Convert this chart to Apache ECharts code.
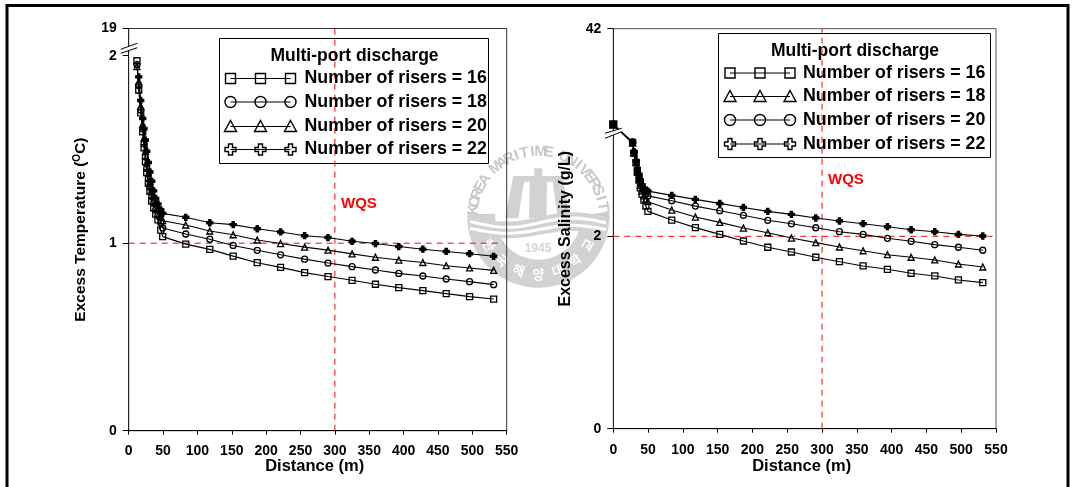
<!DOCTYPE html>
<html><head><meta charset="utf-8">
<style>html,body{margin:0;padding:0;background:#fff}#c{width:1072px;height:487px}</style>
<script src="https://cdn.jsdelivr.net/npm/echarts@6/dist/echarts.min.js"></script>
</head><body><div id="c"></div>
<script>
// ---- data ----
const tempDistance = [12,14.6,17.5,20.4,22.3,24.3,26.2,28.6,30.9,33.5,36.4,39.3,42.6,46.6,49.5,83,118,152,187,221,256,290,325,359,393,428,462,496,531];
const tempRisers16 = [1.973,1.817,1.695,1.594,1.509,1.435,1.376,1.319,1.277,1.225,1.189,1.155,1.124,1.07,1.035,0.995,0.967,0.931,0.896,0.871,0.843,0.822,0.802,0.781,0.763,0.747,0.731,0.715,0.702];
const tempRisers18 = [1.952,1.841,1.71,1.61,1.53,1.46,1.399,1.344,1.299,1.249,1.214,1.178,1.148,1.108,1.081,1.049,1.021,0.988,0.962,0.938,0.915,0.894,0.875,0.857,0.839,0.825,0.809,0.795,0.779];
const tempRisers20 = [1.942,1.861,1.73,1.635,1.56,1.49,1.43,1.375,1.329,1.284,1.249,1.214,1.184,1.143,1.12,1.097,1.065,1.045,1.017,0.998,0.979,0.963,0.943,0.925,0.91,0.897,0.88,0.868,0.855];
const tempRisers22 = [null,1.887,1.761,1.665,1.61,1.55,1.49,1.43,1.38,1.33,1.279,1.239,1.209,1.178,1.159,1.138,1.109,1.099,1.077,1.06,1.04,1.03,1.01,0.998,0.982,0.968,0.956,0.944,0.93];
const saltDistance = [0,27.7,29.7,32.8,34.6,37,38.9,41.3,44,46.9,49.8,84,118,153,187,222,256,291,325,359,394,428,462,496,531];
const saltRisers16 = [3.162,2.976,2.861,2.764,2.664,2.584,2.504,2.439,2.377,2.314,2.259,2.169,2.09,2.02,1.951,1.886,1.837,1.782,1.736,1.692,1.657,1.616,1.588,1.546,1.518];
const saltRisers18 = [3.162,2.97,2.87,2.77,2.68,2.6,2.53,2.47,2.42,2.39,2.36,2.273,2.2,2.145,2.086,2.037,1.982,1.934,1.889,1.85,1.809,1.782,1.754,1.712,1.681];
const saltRisers20 = [3.162,2.97,2.875,2.775,2.69,2.62,2.56,2.51,2.47,2.44,2.42,2.37,2.314,2.266,2.218,2.166,2.13,2.089,2.048,2.02,1.979,1.948,1.913,1.886,1.855];
const saltRisers22 = [3.162,2.98,2.88,2.785,2.705,2.645,2.585,2.535,2.5,2.48,2.47,2.425,2.384,2.342,2.3,2.259,2.228,2.19,2.159,2.131,2.1,2.068,2.048,2.02,2.003];
const tempTicks = [0,1,2,2.145];
const tempTickLabels = ['0','1','2','19'];
const saltTicks = [0,2,4.158];
const saltTickLabels = ['0','2','42'];
const xTicksMax = 550;
const wqsDistance = 300;
const wqsTemp = 1;
const wqsSalt = 2;
const riserNames = ['Number of risers = 16','Number of risers = 18','Number of risers = 20','Number of risers = 22'];

// ---- styling ----
const FONT = '"Liberation Sans", Arial, sans-serif';
const plus = 'path://M32 0H68V32H100V68H68V100H32V68H0V32H32Z';
const axisX = (i,gap,margin) => ({
  type:'value', gridIndex:i, min:0, max:xTicksMax, interval:50,
  name:'Distance (m)', nameLocation:'middle', nameGap:gap, nameMoveOverlap:false,
  nameTextStyle:{fontFamily:FONT,fontWeight:'bold',fontSize:16.5,color:'#000',padding:[0,6,0,0]},
  axisLine:{lineStyle:{color:'#000',width:1}}, axisTick:{length:4,lineStyle:{color:'#000'}},
  axisLabel:{fontFamily:FONT,fontWeight:'bold',fontSize:14,color:'#000',margin,showMinLabel:true,showMaxLabel:true},
  splitLine:{show:false}
});
const axisY = (i,ticks,labels,name,gap,fs) => ({
  type:'value', gridIndex:i, min:0, max:ticks[ticks.length-1],
  name, nameLocation:'middle', nameGap:gap, nameRotate:90, nameMoveOverlap:false,
  nameTextStyle:{fontFamily:FONT,fontWeight:'bold',fontSize:fs,color:'#000',
    rich:{sup:{fontFamily:FONT,fontWeight:'bold',fontSize:10,color:'#000',verticalAlign:'top',padding:[0,0,5,0]},
          n:{fontFamily:FONT,fontWeight:'bold',fontSize:fs,color:'#000'}}},
  axisLine:{lineStyle:{color:'#222',width:1}},
  axisTick:{length:6,lineStyle:{color:'#000'},customValues:ticks},
  axisLabel:{fontFamily:FONT,fontWeight:'bold',fontSize:14,color:'#000',margin:12,customValues:ticks,
    formatter:(v)=>{const k=ticks.findIndex(t=>Math.abs(t-v)<1e-6);return k>=0?labels[k]:'';}},
  splitLine:{show:false}
});
const mk = (name,xs,ys,sym,size,filled,i,z) => ({
  name, type:'line', xAxisIndex:i, yAxisIndex:i, z,
  data: xs.map((x,k)=>[x,ys[k]]),
  symbol:sym, symbolSize:size, showSymbol:true, showAllSymbol:true, silent:true, animation:false, clip:false,
  lineStyle:{color:'#000',width:1.1},
  itemStyle:{color:filled?'#000':'rgba(255,255,255,0)',borderColor:'#000',borderWidth:1.3}
});
const wqs = (pts,i) => ({
  type:'line', xAxisIndex:i, yAxisIndex:i, z:1, data:pts, symbol:'none', silent:true, animation:false,
  lineStyle:{color:'#f00',width:1,type:[6,5]}
});

// ---- legend & decoration drawn as graphics ----
const g = [];
g.push({type:'polyline',z:40,shape:{points:[[7,487],[7,5.5],[1068,5.5],[1068,487]]},style:{stroke:'#000',fill:null,lineWidth:3}});
function legend(box,titleCx,titleY,rowsY,symX,textX,syms){
  g.push({type:'rect',z:5,shape:{x:box[0],y:box[1],width:box[2]-box[0],height:box[3]-box[1]},style:{fill:null,stroke:'#000',lineWidth:1}});
  g.push({type:'text',z:6,x:titleCx,y:titleY,style:{text:'Multi-port discharge',align:'center',verticalAlign:'middle',font:'bold 17.5px '+FONT,fill:'#000'}});
  rowsY.forEach((y,r)=>{
    g.push({type:'line',z:6,shape:{x1:symX[0],y1:y,x2:symX[2],y2:y},style:{stroke:'#000',lineWidth:1}});
    symX.forEach(x=>{
      const st={fill:'rgba(255,255,255,0)',stroke:'#000',lineWidth:1.4}, s=syms[r];
      if(s==='s') g.push({type:'rect',z:6,shape:{x:x-5,y:y-5,width:10,height:10},style:st});
      if(s==='c') g.push({type:'circle',z:6,shape:{cx:x,cy:y,r:5.5},style:st});
      if(s==='t') g.push({type:'polygon',z:6,shape:{points:[[x,y-6],[x+6,y+5],[x-6,y+5]]},style:st});
      if(s==='p') g.push({type:'polygon',z:6,shape:{points:[[x-2,y-5.5],[x+2,y-5.5],[x+2,y-2],[x+5.5,y-2],[x+5.5,y+2],[x+2,y+2],[x+2,y+5.5],[x-2,y+5.5],[x-2,y+2],[x-5.5,y+2],[x-5.5,y-2],[x-2,y-2]]},style:st});
    });
    g.push({type:'text',z:6,x:textX,y:y,style:{text:riserNames[r],align:'left',verticalAlign:'middle',font:'bold 17.8px '+FONT,fill:'#000'}});
  });
}
legend([219.5,38.5,488.5,163.5],354.5,56,[78.5,102,126.5,149.5],[230.5,260.5,290.5],304.5,['s','c','t','p']);
legend([718.5,33.5,990.5,157.5],855,51,[73,96.5,120,144],[730,760,790],803,['s','t','c','p']);
g.push({type:'text',z:6,x:341,y:204,style:{text:'WQS',align:'left',verticalAlign:'middle',font:'bold 15px '+FONT,fill:'#f00'}});
g.push({type:'text',z:6,x:828,y:180,style:{text:'WQS',align:'left',verticalAlign:'middle',font:'bold 15px '+FONT,fill:'#f00'}});
function brk(a,b,c,d){
  g.push({type:'polygon',z:30,shape:{points:[a,b,d,c]},style:{fill:'#fff',stroke:null}});
  g.push({type:'line',z:31,shape:{x1:a[0],y1:a[1],x2:b[0],y2:b[1]},style:{stroke:'#000',lineWidth:1}});
  g.push({type:'line',z:31,shape:{x1:c[0],y1:c[1],x2:d[0],y2:d[1]},style:{stroke:'#000',lineWidth:1}});
}
brk([120.7,49.3],[137.3,43.3],[120.7,53.3],[137.3,47.7]);
brk([605,133.3],[621.7,128.3],[605,138.3],[621.7,131.7]);
// watermark (emblem)
const WC=[538.3,216.7], GR='#d2d2d2', Z=-5;
const pz=(x,y)=>[455+x/3,140+y/3];
const poly=(pts,fill)=>g.push({type:'polygon',z:Z,shape:{points:pts.map(p=>pz(p[0],p[1]))},style:{fill,stroke:null}});
const ring=[];
for(let a=-4;a<=184;a+=3){ring.push([WC[0]+71*Math.cos(a*Math.PI/180),WC[1]+71*Math.sin(a*Math.PI/180)]);}
for(let a=184;a>=-4;a-=3){ring.push([WC[0]+43*Math.cos(a*Math.PI/180),WC[1]+43*Math.sin(a*Math.PI/180)]);}
g.push({type:'polygon',z:Z,shape:{points:ring},style:{fill:GR,stroke:null}});
poly([[175,108],[322,108],[345,235],[150,235]],GR);
poly([[238,85],[262,85],[262,108],[238,108]],GR);
poly([[207,125],[224,125],[222,235],[190,235]],'#fff');
poly([[276,125],[293,125],[308,235],[274,235]],'#fff');
[[238,14,5],[258,12,4.5],[278,11,4]].forEach(w=>{
  const pts=[];for(let x=45;x<=460;x+=8){pts.push(pz(x,w[0]+w[1]*Math.sin((x-60)/62)));}
  g.push({type:'polyline',z:Z+1,shape:{points:pts},style:{stroke:GR,fill:null,lineWidth:w[2]}});
});
[[248,14,3],[268,12,3]].forEach(w=>{
  const pts=[];for(let x=45;x<=460;x+=8){pts.push(pz(x,w[0]+w[1]*Math.sin((x-60)/62)));}
  g.push({type:'polyline',z:Z+2,shape:{points:pts},style:{stroke:'#fff',fill:null,lineWidth:w[2]}});
});
const arcText=(txt,a0,a1,r,font,fill,flip)=>{[...txt].forEach((ch,k)=>{
  const a=(a0+(a1-a0)*k/(txt.length-1))*Math.PI/180;
  g.push({type:'text',z:Z+3,x:WC[0]+r*Math.cos(a),y:WC[1]+r*Math.sin(a),
    rotation:flip?(Math.PI/2-a):(-a-Math.PI/2),
    style:{text:ch,align:'center',verticalAlign:'middle',font,fill}});
});};
arcText('KOREA MARITIME UNIVERSITY',-174,-2,65,'bold 15px '+FONT,'#c8c8c8',false);
arcText('한국해양대학교',150,30,57,'bold 13px "Noto Sans CJK KR"','#fff',true);
g.push({type:'text',z:Z+3,x:538,y:249,style:{text:'1945',align:'center',verticalAlign:'middle',font:'bold 12px '+FONT,fill:'#d4d4d4'}});

const chart = echarts.init(document.getElementById('c'),null,{renderer:'canvas'});
const s16=mk(riserNames[0],saltDistance,saltRisers16,'rect',6,false,1,9);
s16.data[0]={value:s16.data[0],symbolSize:7,itemStyle:{color:'#000'}};
chart.setOption({
  animation:false, backgroundColor:'#fff',
  grid:[
    {left:128.7,top:28.5,width:378,height:402.2,show:true,borderColor:'#333',borderWidth:1,containLabel:false},
    {left:613.3,top:28.7,width:382.7,height:400,show:true,borderColor:'#555',borderWidth:1,containLabel:false}
  ],
  xAxis:[axisX(0,27,13),axisX(1,29,14)],
  yAxis:[
    axisY(0,tempTicks,tempTickLabels,'{n|Excess Temperature (}{sup|O}{n|C)}',40,15.5),
    axisY(1,saltTicks,saltTickLabels,'Excess Salinity (g/L)',40,16),
  ],
  series:[
    wqs([[wqsDistance,0],[wqsDistance,tempTicks[3]]],0),
    wqs([[0,wqsTemp],[545,wqsTemp]],0),
    wqs([[wqsDistance,0],[wqsDistance,saltTicks[2]]],1),
    wqs([[0,wqsSalt],[545,wqsSalt]],1),
    mk(riserNames[3],tempDistance,tempRisers22,plus,6,true,0,6),
    mk(riserNames[2],tempDistance,tempRisers20,'triangle',6,false,0,7),
    mk(riserNames[1],tempDistance,tempRisers18,'circle',6,false,0,8),
    mk(riserNames[0],tempDistance,tempRisers16,'rect',6,false,0,9),
    mk(riserNames[3],saltDistance,saltRisers22,plus,6,true,1,6),
    mk(riserNames[2],saltDistance,saltRisers20,'circle',6,false,1,7),
    mk(riserNames[1],saltDistance,saltRisers18,'triangle',6,false,1,8),
    s16
  ],
  graphic:{elements:g}
});
</script></body></html>
